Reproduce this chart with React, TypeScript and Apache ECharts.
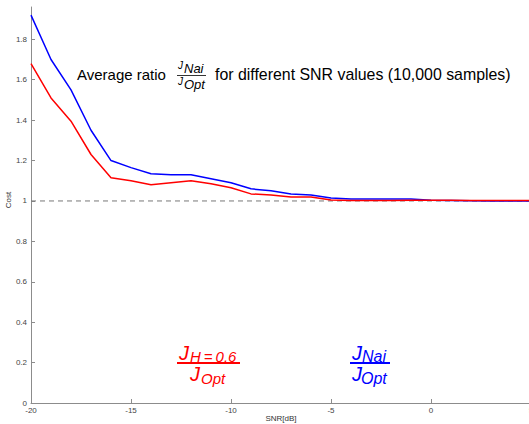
import React, { useEffect, useRef } from "react";
import * as echarts from "echarts";

const snr = [-20, -19, -18, -17, -16, -15, -14, -13, -12, -11, -10, -9, -8, -7, -6, -5, -4, -3, -2, -1, 0, 1, 2, 3, 4, 5];
const costNai = [1.92, 1.70, 1.55, 1.35, 1.20, 1.165, 1.135, 1.13, 1.13, 1.11, 1.09, 1.06, 1.05, 1.035, 1.03, 1.015, 1.01, 1.01, 1.01, 1.01, 1.003, 1.002, 1.001, 1.0, 1.0, 1.0];
const costH06 = [1.68, 1.51, 1.395, 1.23, 1.115, 1.10, 1.08, 1.09, 1.10, 1.085, 1.065, 1.035, 1.03, 1.02, 1.02, 1.005, 1.002, 1.002, 1.002, 1.003, 1.003, 1.003, 1.002, 1.002, 1.002, 1.002];
const referenceX = [-20, 5];
const referenceY = [1, 1];
const xAxisTitle = "SNR[dB]";
const yAxisTitle = "Cost";

const FONT = "'Liberation Sans', Arial, Helvetica, sans-serif";

function txt(text: string, x: number, y: number, size: number, color: string, italic = false) {
  return {
    type: "text",
    x,
    y,
    silent: true,
    style: {
      text,
      fill: color,
      fontSize: size,
      fontFamily: FONT,
      fontStyle: italic ? "italic" : "normal",
      verticalAlign: "middle",
      align: "left",
    },
  };
}

function bar(x1: number, x2: number, y: number, color: string, w: number) {
  return {
    type: "line",
    silent: true,
    shape: { x1, y1: y, x2, y2: y },
    style: { stroke: color, lineWidth: w },
  };
}

export default function App() {
  const ref = useRef<HTMLDivElement>(null);
  useEffect(() => {
    if (!ref.current) return;
    const chart = echarts.init(ref.current, undefined, { renderer: "svg" });
    const toPairs = (xs: number[], ys: number[]) => xs.map((x, i) => [x, ys[i]]);
    const axisColor = "#8c8c8c";
    chart.setOption({
      animation: false,
      backgroundColor: "#ffffff",
      grid: { left: 31, top: 7, width: 500, height: 396, containLabel: false, outerBoundsMode: "none" },
      xAxis: {
        type: "value",
        min: -20,
        max: 5,
        interval: 5,
        axisLine: { show: true, onZero: false, lineStyle: { color: axisColor, width: 1 } },
        axisTick: { show: true, inside: true, length: 4, lineStyle: { color: axisColor } },
        axisLabel: { fontSize: 8, color: "#444", margin: 3, fontFamily: FONT, hideOverlap: false },
        splitLine: { show: false },
      },
      yAxis: {
        type: "value",
        min: 0,
        max: 1.96,
        interval: 0.2,
        axisLine: { show: true, onZero: false, lineStyle: { color: axisColor, width: 1 } },
        axisTick: { show: true, inside: true, length: 4, lineStyle: { color: axisColor } },
        axisLabel: { fontSize: 8, color: "#444", margin: 4, fontFamily: FONT, showMaxLabel: false },
        splitLine: { show: false },
      },
      series: [
        {
          type: "line",
          data: toPairs(referenceX, referenceY),
          symbol: "none",
          lineStyle: { color: "#777", width: 1, type: [5, 4] },
          z: 1,
        },
        {
          name: "Nai",
          type: "line",
          data: toPairs(snr, costNai),
          symbol: "none",
          lineStyle: { color: "#0000ff", width: 1.5 },
          z: 2,
        },
        {
          name: "H=0.6",
          type: "line",
          data: toPairs(snr, costH06),
          symbol: "none",
          lineStyle: { color: "#ff0000", width: 1.5 },
          z: 3,
        },
      ],
      graphic: [
        {
          type: "text",
          x: 281,
          y: 418,
          silent: true,
          style: { text: xAxisTitle, fill: "#333", fontSize: 8, fontFamily: FONT, align: "center", verticalAlign: "middle" },
        },
        {
          type: "text",
          x: 8,
          y: 200,
          rotation: Math.PI / 2,
          silent: true,
          style: { text: yAxisTitle, fill: "#333", fontSize: 8, fontFamily: FONT, align: "center", verticalAlign: "middle" },
        },
        txt("Average ratio", 77, 74, 15, "#000"),
        txt("J", 178, 65, 10, "#000", true),
        txt("Nai", 184, 68, 13, "#000", true),
        bar(177, 206, 75.5, "#000", 0.8),
        txt("J", 178, 81, 10, "#000", true),
        txt("Opt", 184, 84, 13, "#000", true),
        txt("for different SNR values (10,000 samples)", 215, 74, 15.9, "#000"),

        txt("J", 179, 353, 20, "#ff0000", true),
        txt("H\u2009=\u20090.6", 190, 356, 15, "#ff0000", true),
        bar(177, 240, 363, "#ff0000", 2),
        txt("J", 190, 374, 20, "#ff0000", true),
        txt("Opt", 201, 378.5, 15, "#ff0000", true),

        txt("J", 352, 353, 20, "#0000ff", true),
        txt("Nai", 362, 356, 16, "#0000ff", true),
        bar(350, 390, 363, "#0000ff", 2),
        txt("J", 352, 374, 20, "#0000ff", true),
        txt("Opt", 361, 378.5, 16, "#0000ff", true),
      ],
    });
    return () => chart.dispose();
  }, []);
  return (
    <div style={{ position: "fixed", left: 0, top: 0, width: 529, height: 424, overflow: "hidden", background: "#fff" }}>
      <div ref={ref} style={{ width: 540, height: 424 }} />
    </div>
  );
}
